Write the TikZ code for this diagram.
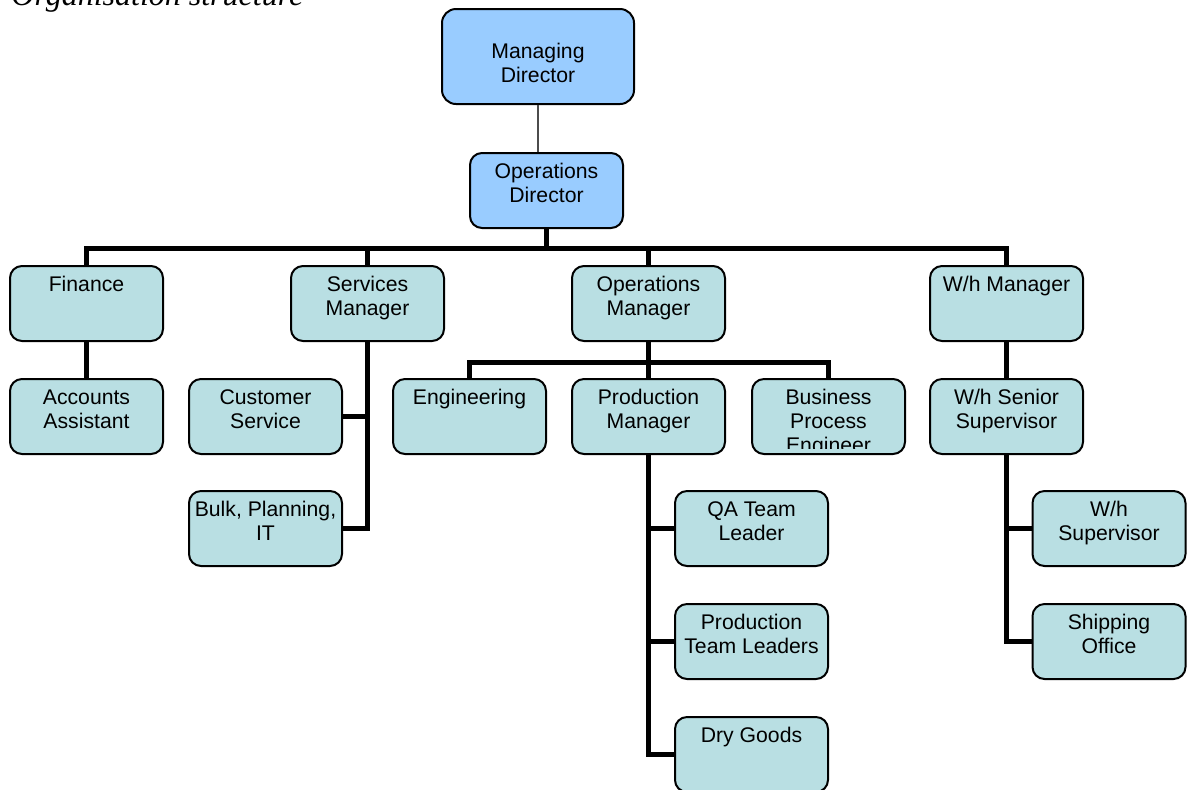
\documentclass[tikz,border=0pt]{standalone}
\usepackage{fontspec}
\setmainfont{Liberation Sans}
\newfontfamily\titlefont{Liberation Serif}
\usetikzlibrary{positioning}

\definecolor{cardfill}{RGB}{185,223,227}
\definecolor{topfill}{RGB}{153,204,255}

\newcommand{\boxtext}[2][27pt]{\parbox[c][#1][t]{76pt}{\centering #2}}

\begin{document}
\begin{tikzpicture}[x=0.5pt, y=-0.5pt,
  card/.style={draw=black, line width=1pt, fill=cardfill, rounded corners=6pt,
    minimum width=76.5pt, minimum height=37.5pt, inner sep=0pt,
    font=\fontsize{10.6}{12}\selectfont},
  topcard/.style={card, fill=topfill},
  link/.style={line width=2.5pt},
  thinlink/.style={line width=0.7pt, draw=black!70},
  cliptext/.style={path picture={
    \clip ([yshift=3pt]path picture bounding box.south west) rectangle (path picture bounding box.north east);
    \node[inner sep=0pt, draw=none, fill=none, font=\fontsize{10.6}{12}\selectfont]
      at (path picture bounding box.center) {\boxtext{#1}};}}]

  \useasboundingbox (0,0) rectangle (1192,789);

  % --- Title ---
  \node[anchor=base west, inner sep=0pt, font=\titlefont\itshape\fontsize{16}{19}\selectfont] (title) at (11,5.5) {Organisation structure};

  % --- Directors ---
  \node[topcard, minimum width=96pt, minimum height=47.5pt, rounded corners=7pt] (md) at (538,56.5) {\boxtext[13.5pt]{Managing\\Director}};
  \node[topcard] (od) at (546.5,190.5) {\boxtext{Operations\\Director}};

  % --- First row ---
  \node[card] (fin) at (86.5,303.5) {\boxtext{Finance}};
  \node[card] (sm) at (367.5,303.5) {\boxtext{Services\\Manager}};
  \node[card] (om) at (648.5,303.5) {\boxtext{Operations\\Manager}};
  \node[card] (wm) at (1006.5,303.5) {\boxtext{W/h Manager}};

  % --- Second row ---
  \node[card] (acc) at (86.5,416.5) {\boxtext{Accounts\\Assistant}};
  \node[card] (cs) at (265.5,416.5) {\boxtext{Customer\\Service}};
  \node[card] (eng) at (469.5,416.5) {\boxtext{Engineering}};
  \node[card] (pm) at (648.5,416.5) {\boxtext{Production\\Manager}};
  \node[card, cliptext={Business\\Process\\Engineer}] (bpe) at (828.5,416.5) {};
  \node[card] (wss) at (1006.5,416.5) {\boxtext{W/h Senior\\Supervisor}};

  % --- Lower rows ---
  \node[card] (bulk) at (265.5,528.5) {\boxtext{Bulk, Planning,\\IT}};
  \node[card] (qa) at (751.5,528.5) {\boxtext{QA Team\\Leader}};
  \node[card] (ptl) at (751.5,641.5) {\boxtext{Production\\Team Leaders}};
  \node[card] (dry) at (751.5,754.5) {\boxtext{Dry Goods}};
  \node[card] (whs) at (1109,528.5) {\boxtext{W/h\\Supervisor}};
  \node[card] (ship) at (1109,641.5) {\boxtext{Shipping\\Office}};

  % --- Links ---
  \draw[thinlink] (md.south) -- (md.south |- od.north);

  \coordinate (bus) at (546.5,248);
  \foreach \n in {fin,sm,om,wm} {
    \draw[link] (od.south) -- (od.south |- bus) -| (\n.north);
  }
  \draw[link] (fin.south) -- (acc.north);
  \foreach \n in {cs,bulk} {
    \draw[link] (sm.south) |- (\n.east);
  }

  \coordinate (opsbus) at (648.5,362);
  \foreach \n in {eng,pm,bpe} {
    \draw[link] (om.south) -- (om.south |- opsbus) -| (\n.north);
  }
  \foreach \n in {qa,ptl,dry} {
    \draw[link] (pm.south) |- (\n.west);
  }

  \draw[link] (wm.south) -- (wss.north);
  \foreach \n in {whs,ship} {
    \draw[link] (wss.south) |- (\n.west);
  }

\end{tikzpicture}
\end{document}
